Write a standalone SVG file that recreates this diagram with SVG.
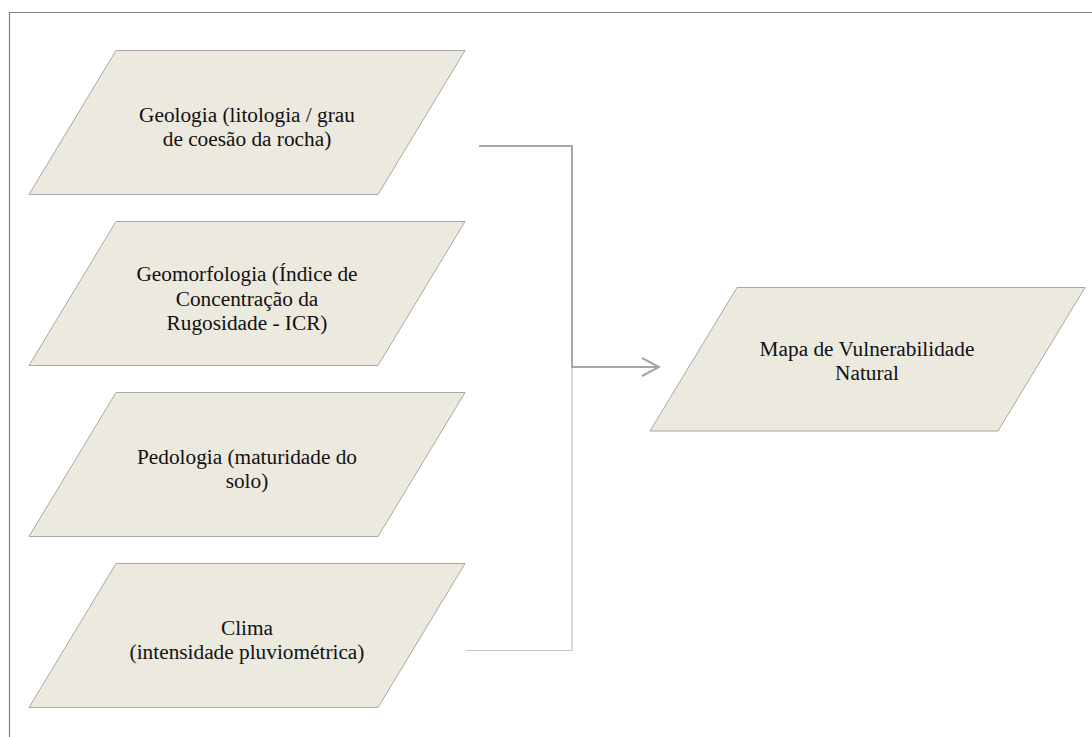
<svg xmlns="http://www.w3.org/2000/svg" width="1092" height="737" viewBox="0 0 1092 737">
<style>
.node{fill:#ece9df;stroke:#a8a8a8;stroke-width:1}
.t{font-family:'Liberation Serif','Times New Roman',serif;font-size:21.3px;fill:#111111;text-anchor:middle}
.c1{fill:none;stroke:#a6a6a6;stroke-width:2}
.c2{fill:none;stroke:#c4c4c4;stroke-width:1.2}
.frame{fill:none;stroke:#808080;stroke-width:1.2}
</style>
<rect width="1092" height="737" fill="#ffffff"/>
<path class="frame" d="M9.5,737 V12.5 H1092"/>
<g id="connectors">
<path class="c2" d="M466,650.5 H572 V367"/>
<path class="c1" d="M479,146 H572 V367 H659"/>
<path class="c1" d="M642,358 L659,367 L642,376"/>
</g>
<g id="geologia" font-family="Liberation Serif, serif">
<polygon class="node" points="116,50.5 465,50.5 378,194.5 29,194.5"/>
<text class="t" x="247" y="122">Geologia (litologia / grau</text>
<text class="t" x="247" y="146">de coesão da rocha)</text>
</g>
<g id="geomorfologia" font-family="Liberation Serif, serif">
<polygon class="node" points="116,221.5 465,221.5 378,365.5 29,365.5"/>
<text class="t" x="247" y="281">Geomorfologia (Índice de</text>
<text class="t" x="247" y="305.5">Concentração da</text>
<text class="t" x="247" y="330">Rugosidade - ICR)</text>
</g>
<g id="pedologia" font-family="Liberation Serif, serif">
<polygon class="node" points="116,392.5 465,392.5 378,536.5 29,536.5"/>
<text class="t" x="247" y="464">Pedologia (maturidade do</text>
<text class="t" x="247" y="488">solo)</text>
</g>
<g id="clima" font-family="Liberation Serif, serif">
<polygon class="node" points="116,563.5 465,563.5 378,707.5 29,707.5"/>
<text class="t" x="247" y="635">Clima</text>
<text class="t" x="247" y="659">(intensidade pluviométrica)</text>
</g>
<g id="mapa" font-family="Liberation Serif, serif">
<polygon class="node" points="737,287.5 1085,287.5 998,431 650,431"/>
<text class="t" x="867" y="356">Mapa de Vulnerabilidade</text>
<text class="t" x="867" y="380">Natural</text>
</g>
</svg>
